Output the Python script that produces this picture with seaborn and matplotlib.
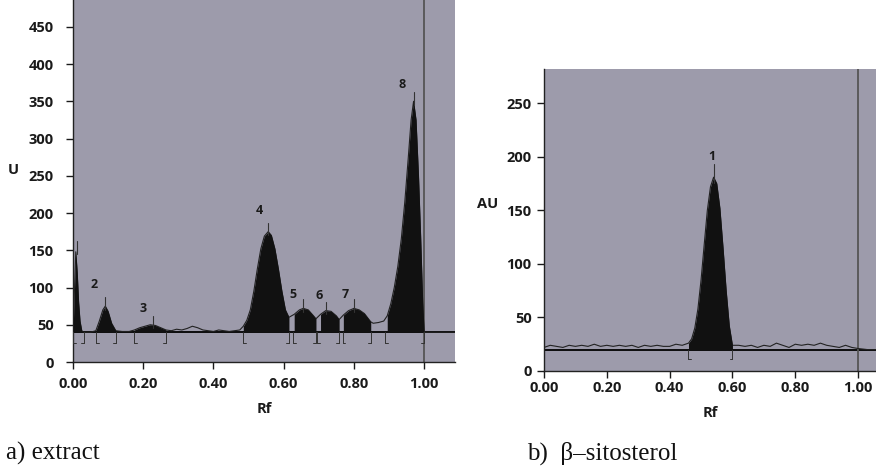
import matplotlib
matplotlib.use("Agg")
import matplotlib.pyplot as plt
import seaborn as sns
import numpy as np
import pandas as pd

# ---------------- data ----------------
left_rf = [0.000, 0.004, 0.008, 0.012, 0.016, 0.020, 0.025, 0.030,
           0.050, 0.065, 0.075, 0.085, 0.092, 0.100, 0.110, 0.122,
           0.140, 0.160, 0.175, 0.190, 0.205, 0.220, 0.235, 0.250, 0.265,
           0.280, 0.295, 0.310, 0.325, 0.340, 0.355, 0.370, 0.385, 0.400,
           0.415, 0.430, 0.445, 0.460, 0.475,
           0.485, 0.495, 0.505, 0.515, 0.525, 0.535, 0.545, 0.556, 0.565, 0.575,
           0.585, 0.595, 0.605, 0.615,
           0.630, 0.645, 0.656, 0.670, 0.685, 0.692,
           0.705, 0.720, 0.735, 0.750, 0.758,
           0.770, 0.785, 0.800, 0.815, 0.830, 0.848,
           0.855, 0.870, 0.885,
           0.895, 0.905, 0.915, 0.925, 0.935, 0.945, 0.955, 0.963, 0.970, 0.977,
           0.984, 0.990, 0.996, 1.000,
           1.020, 1.050, 1.090]
left_u = [40, 95, 148, 120, 80, 55, 42, 40,
          40, 42, 55, 70, 75, 68, 52, 42,
          41, 41, 43, 46, 48, 50, 49, 46, 43,
          42, 44, 43, 45, 48, 46, 43, 42, 41,
          43, 42, 41, 42, 43,
          48, 56, 70, 95, 125, 152, 169, 175, 170, 152,
          125, 95, 70, 60,
          64, 70, 72, 70, 62, 58,
          64, 69, 68, 62, 57,
          63, 69, 72, 70, 65, 54,
          52, 53, 55,
          62, 78, 100, 128, 165, 215, 275, 325, 350, 325,
          250, 170, 80, 40,
          40, 40, 40]
left_baseline = 40
left_regions = [(0.000, 0.030), (0.065, 0.122), (0.175, 0.265), (0.485, 0.615),
                (0.628, 0.692), (0.696, 0.758), (0.768, 0.848), (0.890, 1.000)]
left_peak_rf = [0.012, 0.090, 0.228, 0.556, 0.655, 0.720, 0.800, 0.970]
left_peak_u = [150, 75, 50, 175, 72, 69, 72, 350]
left_labels = ["", "2", "3", "4", "5", "6", "7", "8"]
left_label_rf = [0.0, 0.060, 0.199, 0.530, 0.627, 0.700, 0.775, 0.937]
left_label_u = [0, 104, 72, 203, 91, 89, 91, 372]

right_rf = [0.00, 0.02, 0.04, 0.06, 0.08, 0.10, 0.12, 0.14, 0.16, 0.18, 0.20, 0.22,
            0.24, 0.26, 0.28, 0.30, 0.32, 0.34, 0.36, 0.38, 0.40, 0.42, 0.44, 0.46,
            0.47, 0.48, 0.49, 0.50, 0.51, 0.52, 0.53, 0.54, 0.55, 0.56, 0.57, 0.58,
            0.59, 0.60, 0.62, 0.64, 0.66, 0.68,
            0.70, 0.72, 0.74, 0.76, 0.78, 0.80, 0.82, 0.84, 0.86, 0.88, 0.90, 0.92,
            0.94, 0.96, 0.98, 1.00, 1.03, 1.06]
right_au = [22, 24, 23, 22, 24, 23, 24, 23, 25, 23, 24, 23,
            24, 23, 24, 22, 24, 23, 24, 23, 23, 25, 24, 26,
            30, 40, 58, 85, 118, 150, 172, 181, 175, 152, 115, 75,
            42, 24, 24, 23, 24, 22,
            24, 23, 26, 24, 22, 25, 24, 25, 24, 26, 24, 23,
            22, 24, 22, 21, 20, 20]
right_baseline = 20
right_regions = [(0.46, 0.60)]
right_peak_rf = [0.540]
right_peak_u = [181]
right_labels = ["1"]
right_label_rf = [0.535]
right_label_u = [200]

x_ticks = [0.0, 0.2, 0.4, 0.6, 0.8, 1.0]
left_y_ticks = [0, 50, 100, 150, 200, 250, 300, 350, 400, 450]
right_y_ticks = [0, 50, 100, 150, 200, 250]

# ---------------- style ----------------
sns.set_style("ticks")
plt.rcParams['font.family'] = ['Open Sans', 'DejaVu Sans']
BG = '#9d9bab'
TXT = '#1a1a1a'

fig = plt.figure(figsize=(8.76, 4.69), dpi=100)
axL = fig.add_axes([73/876, 1-362/469, (455-73)/876, 362/469])
axR = fig.add_axes([544/876, 1-371/469, (876-544)/876, (371-69)/469])


def draw(ax, rf, vals, base, regions, prf, pval, labels, lrf, lval, ylim, yticks,
         ylabel, ylabel_pos, bracket_depth, mark_len, xpad, ypad):
    ax.set_facecolor(BG)
    df = pd.DataFrame({"Rf": rf, "U": vals})
    xs = np.array(rf, dtype=float)
    ys = np.array(vals, dtype=float)
    # baseline
    ax.axhline(base, color='black', lw=1.3, zorder=2)
    # trace
    sns.lineplot(data=df, x="Rf", y="U", ax=ax, color='#222222', lw=0.8,
                 zorder=3, legend=False)
    # filled peaks
    for a, b in regions:
        m = (xs >= a - 1e-9) & (xs <= b + 1e-9)
        ax.fill_between(xs[m], base, ys[m], color='#111111', lw=0, zorder=4)
    # brackets below baseline
    for a, b in regions:
        foot = 0.008
        for xv, d in ((a, 1), (b, -1)):
            ax.plot([xv, xv], [base, base - bracket_depth], color='#333333',
                    lw=0.7, zorder=5)
            ax.plot([xv, xv + d * foot], [base - bracket_depth, base - bracket_depth],
                    color='#333333', lw=0.7, zorder=5)
    # peak markers
    for xp, yp in zip(prf, pval):
        ax.plot([xp, xp], [yp - 5, yp + mark_len], color='#333333', lw=0.8, zorder=5)
    for t, xl, yl in zip(labels, lrf, lval):
        if t:
            ax.text(xl, yl, t, fontsize=9, fontweight='bold', color=TXT,
                    ha='center', va='center', zorder=6)
    # vertical line at Rf = 1.00
    ax.axvline(1.0, color='#555555', lw=1.3, zorder=2)
    ax.set_ylim(*ylim)
    ax.set_yticks(yticks)
    ax.set_xticks(x_ticks)
    ax.set_xticklabels([f"{v:.2f}" for v in x_ticks])
    ax.tick_params(axis='both', direction='out', length=5, width=1, colors=TXT,
                   labelsize=10.5)
    ax.tick_params(axis='x', pad=xpad)
    ax.tick_params(axis='y', pad=ypad)
    for lab in ax.get_xticklabels() + ax.get_yticklabels():
        lab.set_fontweight('bold')
    for s in ('top', 'right'):
        ax.spines[s].set_visible(False)
    for s in ('left', 'bottom'):
        ax.spines[s].set_color('#222222')
        ax.spines[s].set_linewidth(1.0)
    ax.set_xlabel("Rf", fontsize=10.5, fontweight='bold', color=TXT, labelpad=8)
    ax.set_ylabel(ylabel, fontsize=10.5, fontweight='bold', color=TXT, rotation=0)
    ax.yaxis.set_label_coords(*ylabel_pos)


draw(axL, left_rf, left_u, left_baseline, left_regions, left_peak_rf, left_peak_u,
     left_labels, left_label_rf, left_label_u, (0, 486), left_y_ticks,
     "U", (-0.155, 0.51), 14, 12, 6, 9)
axL.set_xlim(0, 1.088)

draw(axR, right_rf, right_au, right_baseline, right_regions, right_peak_rf,
     right_peak_u, right_labels, right_label_rf, right_label_u, (0, 282),
     right_y_ticks, "AU", (-0.17, 0.53), 9, 12, 2, 4)
axR.set_xlim(0, 1.057)

fig.text(6/876, 1-453/469, "a) extract", family='Liberation Serif', fontsize=18,
         color='#111111', va='center', ha='left')
fig.text(527/876, 1-453/469, "b)  β–sitosterol", family='Liberation Serif',
         fontsize=18, color='#111111', va='center', ha='left')

fig.savefig("out.png", dpi=100)
